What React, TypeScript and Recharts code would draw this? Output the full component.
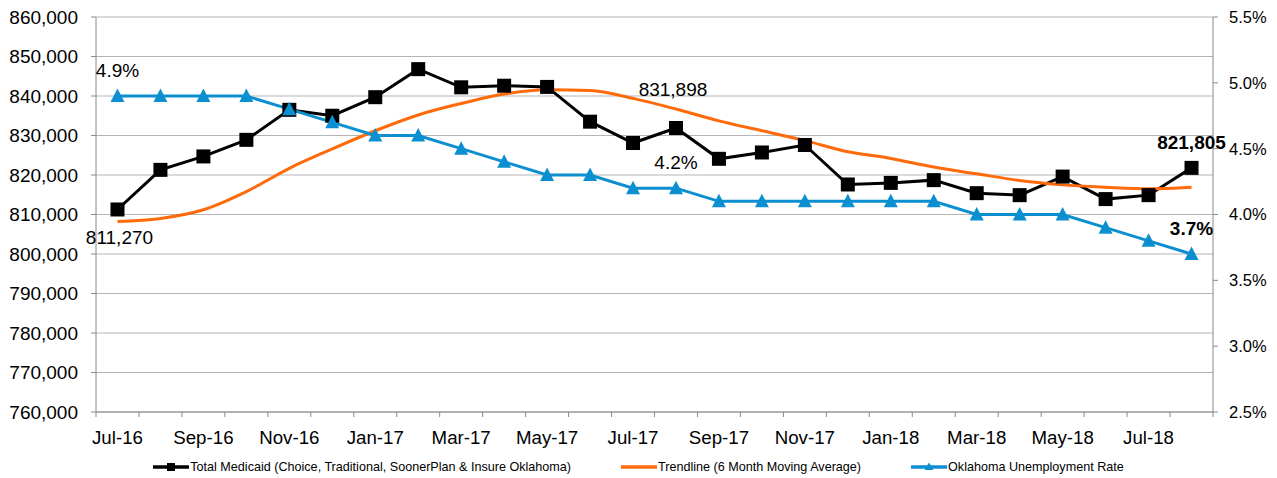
import React from "react";
import { ComposedChart, Line, XAxis, YAxis, CartesianGrid, LabelList } from "recharts";

const months = [
  "Jul-16", "Aug-16", "Sep-16", "Oct-16", "Nov-16", "Dec-16", "Jan-17", "Feb-17", "Mar-17",
  "Apr-17", "May-17", "Jun-17", "Jul-17", "Aug-17", "Sep-17", "Oct-17", "Nov-17", "Dec-17",
  "Jan-18", "Feb-18", "Mar-18", "Apr-18", "May-18", "Jun-18", "Jul-18", "Aug-18",
];

// Total Medicaid enrollment
const medicaid = [
  811270, 821300, 824700, 828900, 836500, 835000, 839700, 846800, 842200,
  842600, 842300, 833500, 828100, 831898, 824100, 825700, 827600, 817600,
  818000, 818700, 815400, 814900, 819600, 813900, 814900, 821805,
];

// 6 month moving average
const trend = [
  808200, 809000, 811200, 815800, 821700, 826600, 831200, 835200, 838100,
  840500, 841600, 841400, 839400, 836700, 833700, 831200, 828700, 825900,
  824200, 822000, 820300, 818600, 817500, 816900, 816500, 816900,
];

// Oklahoma unemployment rate, %
const unemployment = [
  4.9, 4.9, 4.9, 4.9, 4.8, 4.7, 4.6, 4.6, 4.5,
  4.4, 4.3, 4.3, 4.2, 4.2, 4.1, 4.1, 4.1, 4.1,
  4.1, 4.1, 4.0, 4.0, 4.0, 3.9, 3.8, 3.7,
];

const leftTicks = [760000, 770000, 780000, 790000, 800000, 810000, 820000, 830000, 840000, 850000, 860000];
const rightTicks = [2.5, 3.0, 3.5, 4.0, 4.5, 5.0, 5.5];

const FONT = "'Liberation Sans', Arial, sans-serif";
const AXIS = "#8a8a8a";
const GRID = "#b5b5b5";
const BLACK = "#000000";
const ORANGE = "#ff6a0a";
const BLUE = "#0c8fd0";

const rows = months.map((m, i) => ({
  idx: i,
  month: m,
  medicaid: medicaid[i],
  trend: trend[i],
  rate: unemployment[i],
}));

// tick marks sit on the band edges, labels on every other month
const xTicks = [
  ...months.map((_, i) => i - 0.5),
  months.length - 0.5,
  ...months.map((_, i) => i).filter((i) => i % 2 === 0),
].sort((a, b) => a - b);

function XTick({ x, y, payload }: any) {
  const v = payload.value;
  if (!Number.isInteger(v)) {
    return <line x1={x} x2={x} y1={y} y2={y + 5} stroke={AXIS} />;
  }
  return (
    <text x={x} y={y + 32} textAnchor="middle" fontSize={18.7} fontFamily={FONT} fill="#000">
      {months[v]}
    </text>
  );
}

const SquareDot = ({ cx, cy, index }: any) => (
  <rect key={`sq-${index}`} x={cx - 7} y={cy - 7} width={14} height={14} fill={BLACK} />
);

const TriangleDot = ({ cx, cy, index }: any) => (
  <polygon
    key={`tr-${index}`}
    points={`${cx},${cy - 7.5} ${cx + 7},${cy + 6} ${cx - 7},${cy + 6}`}
    fill={BLUE}
  />
);

const fmtNum = (v: number) => Number(v).toLocaleString("en-US");

function MedicaidLabel({ x, y, index, value }: any) {
  const last = index === months.length - 1;
  if (index !== 0 && index !== 13 && !last) return null;
  let cy = y - 26;
  let cx = x;
  if (index === 0) { cy = y + 28; cx = x + 2; }
  if (index === 13) { cy = y - 39; cx = x - 3; }
  return (
    <text x={cx} y={cy + 7} textAnchor="middle" fontSize={19} fontFamily={FONT}
      fontWeight={last ? "bold" : "normal"} fill="#000">
      {fmtNum(value)}
    </text>
  );
}

function RateLabel({ x, y, index, value }: any) {
  const last = index === months.length - 1;
  if (index !== 0 && index !== 13 && !last) return null;
  return (
    <text x={x} y={y - 26 + 7} textAnchor="middle" fontSize={19} fontFamily={FONT}
      fontWeight={last ? "bold" : "normal"} fill="#000">
      {`${Number(value).toFixed(1)}%`}
    </text>
  );
}

function LegendItem({ color, marker, text }: { color: string; marker?: "square" | "triangle"; text: string }) {
  return (
    <div style={{ display: "flex", alignItems: "center" }}>
      <svg width={36} height={12}>
        <line x1={0} x2={36} y1={6} y2={6} stroke={color} strokeWidth={3.5} />
        {marker === "square" && <rect x={14} y={2} width={8} height={8} fill={color} />}
        {marker === "triangle" && <polygon points="18,1.5 22.5,9 13.5,9" fill={color} />}
      </svg>
      <span style={{ marginLeft: 1 }}>{text}</span>
    </div>
  );
}

export default function App() {
  return (
    <div style={{ position: "absolute", left: 0, top: 0, width: 1277, height: 478, background: "#fff" }}>
      <ComposedChart width={1277} height={478} data={rows} margin={{ top: 17, right: 0, bottom: 0, left: 0 }}>
        <CartesianGrid yAxisId="left" vertical={false} stroke={GRID} />
        <XAxis
          dataKey="idx"
          type="number"
          domain={[-0.5, months.length - 0.5]}
          ticks={xTicks}
          interval={0}
          tick={<XTick />}
          tickLine={false}
          tickSize={0}
          tickMargin={0}
          stroke={AXIS}
          height={66}
          allowDataOverflow
        />
        <YAxis
          yAxisId="left"
          domain={[760000, 860000]}
          ticks={leftTicks}
          width={96}
          tickFormatter={fmtNum}
          tick={{ fontSize: 19, fill: "#000", fontFamily: FONT }}
          stroke={AXIS}
          tickSize={5}
          tickMargin={13}
          allowDataOverflow
        />
        <YAxis
          yAxisId="right"
          orientation="right"
          domain={[2.5, 5.5]}
          ticks={rightTicks}
          width={64}
          tickFormatter={(v: number) => `${v.toFixed(1)}%`}
          tick={{ fontSize: 16.5, fill: "#000", fontFamily: FONT }}
          stroke={AXIS}
          tickSize={5}
          tickMargin={11}
          allowDataOverflow
        />
        <Line
          yAxisId="left"
          dataKey="medicaid"
          type="linear"
          stroke={BLACK}
          strokeWidth={3}
          dot={SquareDot}
          isAnimationActive={false}
        >
          <LabelList dataKey="medicaid" content={MedicaidLabel} />
        </Line>
        <Line
          yAxisId="left"
          dataKey="trend"
          type="monotone"
          stroke={ORANGE}
          strokeWidth={3}
          dot={false}
          isAnimationActive={false}
        />
        <Line
          yAxisId="right"
          dataKey="rate"
          type="linear"
          stroke={BLUE}
          strokeWidth={3}
          dot={TriangleDot}
          isAnimationActive={false}
        >
          <LabelList dataKey="rate" content={RateLabel} />
        </Line>
      </ComposedChart>
      <div
        style={{
          position: "absolute",
          left: 0,
          top: 459,
          width: 1277,
          display: "flex",
          justifyContent: "center",
          gap: 50,
          fontFamily: FONT,
          fontSize: 12.6,
          color: "#000",
          lineHeight: "16px",
        }}
      >
        <LegendItem color={BLACK} marker="square" text="Total Medicaid (Choice, Traditional, SoonerPlan & Insure Oklahoma)" />
        <LegendItem color={ORANGE} text="Trendline (6 Month Moving Average)" />
        <LegendItem color={BLUE} marker="triangle" text="Oklahoma Unemployment Rate" />
      </div>
    </div>
  );
}
